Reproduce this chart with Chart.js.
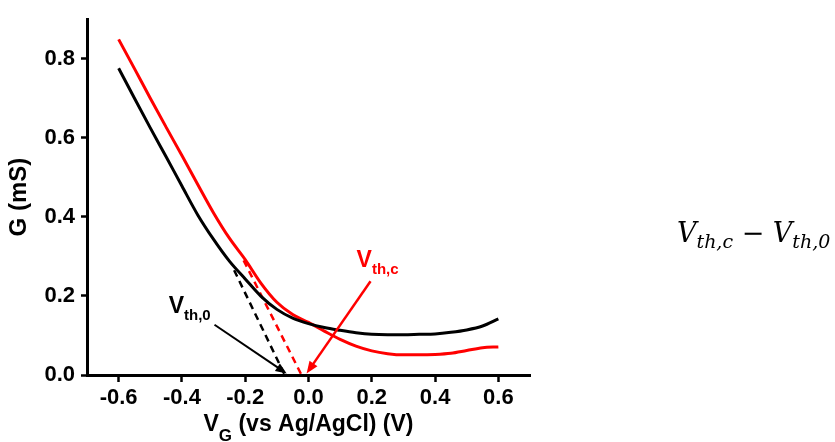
<!DOCTYPE html>
<html>
<head>
<meta charset="utf-8">
<script src="https://cdn.jsdelivr.net/npm/chart.js@4/dist/chart.umd.min.js"></script>
<style>
  html, body { margin: 0; padding: 0; background: #fff; }
  #wrap { width: 835px; height: 442px; position: relative; }
</style>
</head>
<body>
<div id="wrap"><canvas id="chart"></canvas></div>
<script>
// Gate voltage grid (V vs Ag/AgCl) and conductance (mS)
const vg = [-0.6, -0.55, -0.5, -0.45, -0.4, -0.35, -0.3, -0.25, -0.2, -0.15, -0.1, -0.05,
            0, 0.05, 0.1, 0.15, 0.2, 0.25, 0.3, 0.35, 0.4, 0.45, 0.5, 0.55, 0.6];
const gBlack = [0.776, 0.700, 0.625, 0.552, 0.478, 0.405, 0.343, 0.288, 0.243, 0.199, 0.166, 0.144,
                0.130, 0.120, 0.113, 0.107, 0.103, 0.102, 0.102, 0.103, 0.104, 0.108, 0.114, 0.124, 0.142];
const gRed = [0.849, 0.775, 0.700, 0.627, 0.555, 0.482, 0.410, 0.346, 0.292, 0.232, 0.184, 0.153,
              0.133, 0.111, 0.090, 0.073, 0.061, 0.054, 0.051, 0.051, 0.052, 0.055, 0.062, 0.069, 0.071];

// extrapolated tangents down to G = 0 (threshold voltages)
const tanBlackV = [-0.235, -0.075];
const tanBlackG = [0.265, 0];
const tanRedV = [-0.205, -0.022];
const tanRedG = [0.29, 0];

// tick labels
const xTicks = [-0.6, -0.4, -0.2, 0, 0.2, 0.4, 0.6];
const yTicks = [0, 0.2, 0.4, 0.6, 0.8];

// annotations: [fromV, fromG, toV, toG]
const arrowBlack = [-0.297, 0.127, -0.069, 0.004];
const arrowRed = [0.196, 0.237, -0.006, 0.004];
const labelBlack = { v: -0.442, g: 0.176, main: 'V', sub: 'th,0', color: '#000' };
const labelRed = { v: 0.152, g: 0.294, main: 'V', sub: 'th,c', color: '#ff0000' };

const RED = '#ff0000';
const pts = (xs, ys) => xs.map((x, i) => ({ x, y: ys[i] }));

function drawArrow(ctx, x1, y1, x2, y2, color, w, head) {
  const a = Math.atan2(y2 - y1, x2 - x1);
  ctx.save();
  ctx.strokeStyle = color; ctx.fillStyle = color; ctx.lineWidth = w;
  ctx.beginPath();
  ctx.moveTo(x1, y1);
  ctx.lineTo(x2 - Math.cos(a) * head * 0.8, y2 - Math.sin(a) * head * 0.8);
  ctx.stroke();
  ctx.beginPath();
  ctx.moveTo(x2, y2);
  ctx.lineTo(x2 - head * Math.cos(a - 0.38), y2 - head * Math.sin(a - 0.38));
  ctx.lineTo(x2 - head * Math.cos(a + 0.38), y2 - head * Math.sin(a + 0.38));
  ctx.closePath();
  ctx.fill();
  ctx.restore();
}

function drawSub(ctx, x, y, main, sub, mainFont, subFont, subDy, color) {
  ctx.fillStyle = color;
  ctx.textBaseline = 'alphabetic';
  ctx.textAlign = 'left';
  ctx.font = mainFont;
  ctx.fillText(main, x, y);
  let w = ctx.measureText(main).width;
  ctx.font = subFont;
  ctx.fillText(sub, x + w, y + subDy);
  return x + w + ctx.measureText(sub).width;
}

const annotations = {
  id: 'annotations',
  afterDatasetsDraw(chart) {
    const { ctx, scales: { x, y } } = chart;
    ctx.save();
    drawArrow(ctx, x.getPixelForValue(arrowBlack[0]), y.getPixelForValue(arrowBlack[1]),
      x.getPixelForValue(arrowBlack[2]), y.getPixelForValue(arrowBlack[3]), '#000', 2, 12);
    drawArrow(ctx, x.getPixelForValue(arrowRed[0]), y.getPixelForValue(arrowRed[1]),
      x.getPixelForValue(arrowRed[2]), y.getPixelForValue(arrowRed[3]), RED, 2.5, 13);
    for (const l of [labelBlack, labelRed]) {
      drawSub(ctx, x.getPixelForValue(l.v), y.getPixelForValue(l.g) + 8, l.main, l.sub,
        'bold 23px "Liberation Sans", Arial', 'bold 15px "Liberation Sans", Arial', 7, l.color);
    }
    ctx.restore();
  },
  afterDraw(chart) {
    const { ctx, chartArea } = chart;
    ctx.save();
    // x axis title with subscript
    const big = 'bold 23px "Liberation Sans", Arial';
    const small = 'bold 17px "Liberation Sans", Arial';
    ctx.font = big;
    const w1 = ctx.measureText('V').width, w3 = ctx.measureText(' (vs Ag/AgCl) (V)').width;
    ctx.font = small;
    const w2 = ctx.measureText('G').width;
    let sx = (chartArea.left + chartArea.right) / 2 - (w1 + w2 + w3) / 2;
    const by = chartArea.bottom + 56;
    sx = drawSub(ctx, sx, by, 'V', 'G', big, small, 10, '#000');
    ctx.font = big;
    ctx.fillText(' (vs Ag/AgCl) (V)', sx, by);

    // formula on the right
    const fMain = 'italic 27px "DejaVu Serif"';
    const fSub = 'italic 19px "DejaVu Serif"';
    let fx = 677, fy = 242;
    fx = drawSub(ctx, fx, fy, 'V', 'th,c', fMain, fSub, 6, '#000');
    ctx.font = '27px "DejaVu Serif"';
    ctx.fillText(' \u2212 ', fx, fy);
    fx += ctx.measureText(' \u2212 ').width;
    drawSub(ctx, fx, fy, 'V', 'th,0', fMain, fSub, 6, '#000');
    ctx.restore();
  }
};

const lineDs = (data, color, extra) => Object.assign({
  data, borderColor: color, backgroundColor: color, showLine: true,
  pointRadius: 0, borderWidth: 3, cubicInterpolationMode: 'monotone', fill: false,
}, extra || {});

const tickFont = { family: '"Liberation Sans", Arial', size: 22, weight: 'bold' };

new Chart(document.getElementById('chart'), {
  type: 'scatter',
  data: {
    datasets: [
      lineDs(pts(vg, gBlack), '#000'),
      lineDs(pts(vg, gRed), RED),
      lineDs(pts(tanBlackV, tanBlackG), '#000', { borderDash: [7, 5], borderWidth: 2.5 }),
      lineDs(pts(tanRedV, tanRedG), RED, { borderDash: [7, 5], borderWidth: 2.5 }),
    ],
  },
  options: {
    responsive: true,
    maintainAspectRatio: false,
    animation: false,
    layout: { padding: { top: 7, right: 305, left: 0, bottom: 0 } },
    plugins: { legend: { display: false }, tooltip: { enabled: false } },
    scales: {
      x: {
        type: 'linear', min: -0.7, max: 0.7,
        afterBuildTicks: (s) => { s.ticks = xTicks.map((v) => ({ value: v })); },
        afterFit: (s) => { s.height = 67; },
        border: { color: '#000', width: 3 },
        grid: { drawOnChartArea: false, drawTicks: true, tickLength: 7, tickColor: '#000', tickWidth: 2.5 },
        ticks: { color: '#000', font: tickFont, padding: 3, maxRotation: 0,
                 callback: (v) => Number(v).toFixed(1) },
      },
      y: {
        type: 'linear', min: 0, max: 0.9,
        afterBuildTicks: (s) => { s.ticks = yTicks.map((v) => ({ value: v })); },
        afterFit: (s) => { s.width = 87; },
        border: { color: '#000', width: 3 },
        grid: { drawOnChartArea: false, drawTicks: true, tickLength: 6, tickColor: '#000', tickWidth: 2.5 },
        ticks: { color: '#000', font: tickFont, padding: 6, callback: (v) => Number(v).toFixed(1) },
        title: { display: true, text: 'G (mS)', color: '#000', padding: { top: 5, bottom: 0 },
                 font: { family: '"Liberation Sans", Arial', size: 24, weight: 'bold' } },
      },
    },
  },
  plugins: [annotations],
});
</script>
</body>
</html>
